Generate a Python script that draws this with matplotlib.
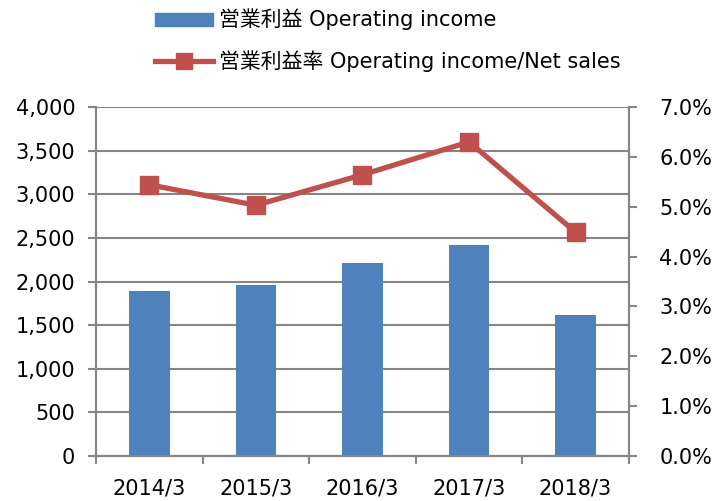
import numpy as np
import matplotlib
matplotlib.use("Agg")
import matplotlib.pyplot as plt
from matplotlib.ticker import FuncFormatter, FixedLocator
from matplotlib.patches import Patch
from matplotlib.lines import Line2D

plt.rcParams['font.family'] = ['DejaVu Sans', 'Noto Sans CJK JP']

# data
years = ["2014/3", "2015/3", "2016/3", "2017/3", "2018/3"]
op_income = [1890, 1960, 2212, 2418, 1616]
op_margin = [5.44, 5.03, 5.64, 6.30, 4.49]

bar_label = "営業利益 Operating income"
line_label = "営業利益率 Operating income/Net sales"

blue = "#4F81BD"
red = "#C0504D"
grey = "#868686"

fig = plt.figure(figsize=(7.17, 5.01), dpi=100)
ax = fig.add_axes([0.134, 0.0898, 0.743, 0.6966])
ax2 = ax.twinx()

x = np.arange(len(years))
ax.bar(x, op_income, width=0.38, color=blue, zorder=3)
ax2.plot(x, op_margin, color=red, lw=3.8, marker="s", markersize=13, zorder=4)

ax.set_xlim(-0.5, len(years) - 0.5)
ax.set_ylim(0, 4000)
ax.set_yticks(np.arange(0, 4001, 500))
ax.yaxis.set_major_formatter(FuncFormatter(lambda v, p: f"{int(v):,}"))
ax2.set_ylim(0, 7)
ax2.set_yticks(np.arange(0, 7.01, 1))
ax2.yaxis.set_major_formatter(FuncFormatter(lambda v, p: f"{v:.1f}%"))

ax.set_xticks(x)
ax.set_xticklabels(years)
ax.xaxis.set_minor_locator(FixedLocator(np.arange(-0.5, len(years), 1)))
ax.tick_params(axis="x", which="major", length=0, pad=16, labelsize=15)
ax.tick_params(axis="x", which="minor", length=6, width=1.5, color=grey)
ax.tick_params(axis="y", length=6, width=1.5, color=grey, labelsize=15, pad=9)
ax2.tick_params(axis="y", length=6, width=1.5, color=grey, labelsize=15, pad=16)

ax.grid(axis="y", color=grey, lw=1.5, zorder=0)
ax.set_axisbelow(True)
for a in (ax, ax2):
    a.spines["top"].set_visible(False)
    for s in ("left", "right", "bottom"):
        a.spines[s].set_color(grey)
        a.spines[s].set_linewidth(1.5)

handles = [Patch(color=blue), Line2D([], [], color=red, lw=3.8, marker="s", markersize=11)]
fig.legend(handles, [bar_label, line_label], loc="upper left",
           bbox_to_anchor=(0.19, 1.02), frameon=False, fontsize=15,
           handlelength=2.8, handleheight=0.6, handletextpad=0.25, labelspacing=0.95)

fig.savefig("out.png", dpi=100)
